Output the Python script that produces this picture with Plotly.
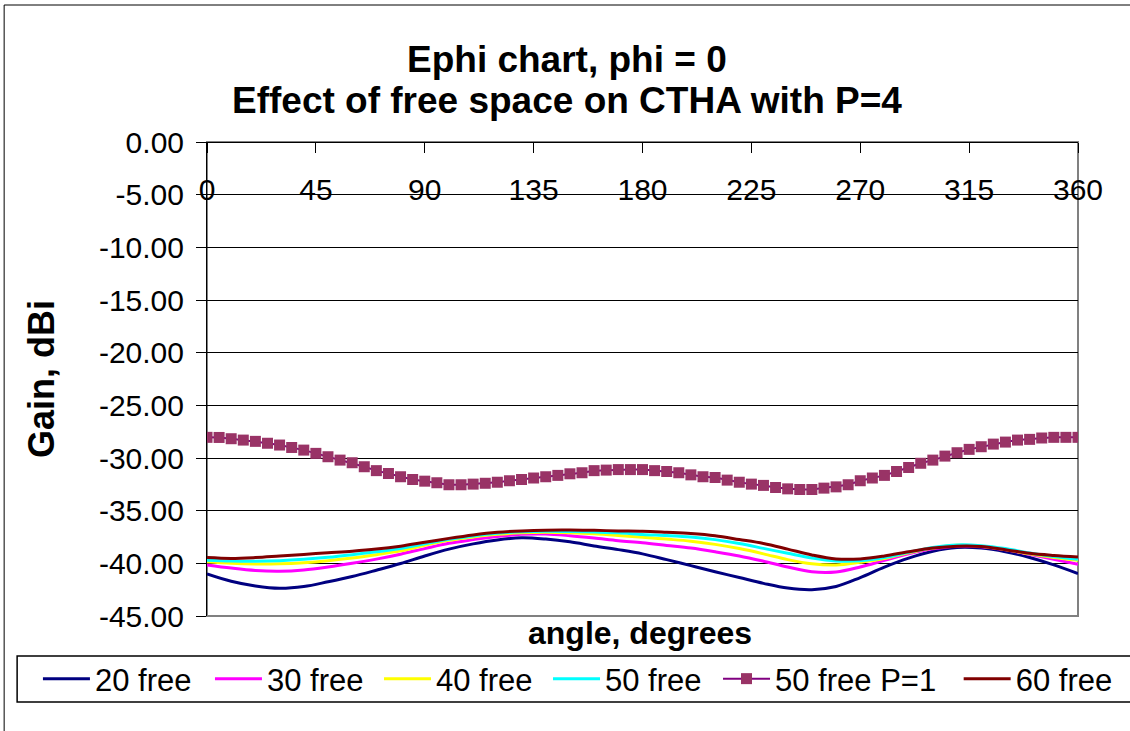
import plotly.graph_objects as go

# ---------------- data ----------------
angles_10 = list(range(0, 361, 10))
angles_5 = list(range(0, 361, 5))

free_20 = [-41.0, -41.7, -42.15, -42.37, -42.2, -41.75, -41.25, -40.65, -40.02, -39.3,
           -38.65, -38.15, -37.78, -37.58, -37.7, -37.96, -38.35, -38.7, -39.1, -39.65,
           -40.22, -40.8, -41.35, -41.9, -42.35, -42.5, -42.2, -41.35, -40.35, -39.5,
           -38.85, -38.5, -38.55, -38.9, -39.45, -40.15, -40.97]
free_30 = [-40.15, -40.45, -40.68, -40.75, -40.63, -40.35, -40.0, -39.6, -39.13, -38.6,
           -38.1, -37.75, -37.45, -37.25, -37.22, -37.38, -37.6, -37.85, -38.05, -38.3,
           -38.55, -38.9, -39.3, -39.8, -40.35, -40.8, -40.82, -40.35, -39.72, -39.1,
           -38.62, -38.37, -38.42, -38.72, -39.15, -39.62, -40.08]
free_40 = [-39.85, -40.0, -40.07, -40.05, -39.94, -39.75, -39.5, -39.18, -38.82, -38.28,
           -37.82, -37.5, -37.25, -37.1, -37.05, -37.1, -37.2, -37.35, -37.52, -37.7,
           -37.9, -38.2, -38.6, -39.1, -39.65, -40.05, -40.16, -39.9, -39.55, -39.0,
           -38.55, -38.28, -38.38, -38.7, -39.1, -39.45, -39.7]
free_50 = [-39.7, -39.78, -39.8, -39.75, -39.62, -39.43, -39.18, -38.9, -38.6, -38.15,
           -37.72, -37.4, -37.15, -37.0, -36.95, -36.98, -37.03, -37.1, -37.26, -37.36,
           -37.5, -37.75, -38.12, -38.58, -39.05, -39.5, -39.77, -39.75, -39.45, -38.95,
           -38.5, -38.25, -38.32, -38.6, -39.02, -39.35, -39.61]
free_60 = [-39.45, -39.53, -39.45, -39.3, -39.15, -39.0, -38.85, -38.65, -38.37, -38.0,
           -37.63, -37.3, -37.05, -36.92, -36.85, -36.84, -36.87, -36.92, -36.95, -37.05,
           -37.17, -37.38, -37.74, -38.12, -38.65, -39.2, -39.58, -39.58, -39.3, -38.9,
           -38.55, -38.37, -38.4, -38.7, -39.05, -39.25, -39.39]
free_50_p1 = [-28.04, -28.05, -28.17, -28.3, -28.42, -28.6, -28.77, -29.0, -29.25, -29.56,   # 0-45
              -29.88, -30.2, -30.45, -30.83, -31.2, -31.47, -31.78, -32.04, -32.2, -32.35,  # 50-95
              -32.54, -32.54, -32.48, -32.4, -32.3, -32.16, -32.04, -31.9, -31.78, -31.65,  # 100-145
              -31.5, -31.4, -31.2, -31.15, -31.1, -31.1, -31.1, -31.2, -31.28, -31.4,       # 150-195
              -31.6, -31.78, -31.85, -32.1, -32.3, -32.48, -32.6, -32.8, -32.93, -32.99,    # 200-245
              -32.99, -32.86, -32.74, -32.54, -32.16, -31.9, -31.65, -31.28, -30.9, -30.5,  # 250-295
              -30.2, -29.82, -29.5, -29.18, -28.93, -28.68, -28.49, -28.3, -28.23, -28.1,   # 300-345
              -28.04, -28.04, -28.04]                                                        # 350-360

x_ticks = [0, 45, 90, 135, 180, 225, 270, 315, 360]
y_ticks = [0, -5, -10, -15, -20, -25, -30, -35, -40, -45]
y_tick_text = ["%.2f" % v for v in y_ticks]

names = ["20 free", "30 free", "40 free", "50 free", "50 free P=1", "60 free"]
colors = ["#000080", "#FF00FF", "#FFFF00", "#00FFFF", "#800080", "#800000"]
marker_color = "#993366"

FONT = "Liberation Sans, Arial, sans-serif"

# legend entry positions (paper x), one small legend per series
legend_x = [-0.1941, 0.0034, 0.1975, 0.3915, 0.5867, 0.8630]
legend_ids = ["legend", "legend2", "legend3", "legend4", "legend5", "legend6"]

fig = go.Figure()
line_series = {0: free_20, 1: free_30, 2: free_40, 3: free_50, 5: free_60}
for i in range(6):
    if i == 4:
        fig.add_trace(go.Scatter(
            x=angles_5, y=free_50_p1, name=names[i], mode="lines+markers",
            legend=legend_ids[i],
            line=dict(color=colors[i], width=2),
            marker=dict(symbol="square", size=11, color=marker_color,
                        line=dict(width=0))))
    else:
        fig.add_trace(go.Scatter(
            x=angles_10, y=line_series[i], name=names[i], mode="lines",
            legend=legend_ids[i],
            line=dict(color=colors[i], width=3, shape="spline", smoothing=1.0)))

legend_common = dict(orientation="h", xanchor="left", y=-0.1329, yanchor="middle",
                     borderwidth=0, bgcolor="rgba(0,0,0,0)",
                     font=dict(family=FONT, size=31, color="black"),
                     itemwidth=47)
legends = {lid: dict(x=lx, **legend_common) for lid, lx in zip(legend_ids, legend_x)}

fig.update_layout(
    width=1130, height=731, autosize=False,
    margin=dict(l=207, r=47, t=142, b=115),
    paper_bgcolor="white", plot_bgcolor="white",
    font=dict(family=FONT, size=30, color="black"),
    xaxis=dict(range=[0, 360], tickvals=x_ticks, ticktext=[str(v) for v in x_ticks],
               anchor="free", position=1, side="bottom",
               showline=True, linecolor="black", linewidth=1,
               ticks="outside", ticklen=10, tickcolor="black",
               ticklabelstandoff=11,
               showgrid=False, zeroline=False,
               tickfont=dict(family=FONT, size=30, color="black")),
    yaxis=dict(range=[-45, 0], tickvals=y_ticks, ticktext=y_tick_text,
               showline=True, linecolor="black", linewidth=1,
               ticks="outside", ticklen=10, tickcolor="black",
               ticklabelstandoff=6,
               showgrid=True, gridcolor="black", gridwidth=1, zeroline=False,
               tickfont=dict(family=FONT, size=30, color="black"),
               title=dict(text="<b>Gain, dBi</b>", standoff=33,
                          font=dict(family=FONT, size=36, color="black"))),
    showlegend=True,
    **legends,
)

# chart title (two lines)
fig.add_annotation(text="<b>Ephi chart, phi = 0</b>", xref="paper", yref="paper",
                   x=0.4132, y=1.173, xanchor="center", yanchor="middle",
                   showarrow=False, font=dict(family=FONT, size=37, color="black"))
fig.add_annotation(text="<b>Effect of free space on CTHA with P=4</b>", xref="paper", yref="paper",
                   x=0.4132, y=1.0886, xanchor="center", yanchor="middle",
                   showarrow=False, font=dict(family=FONT, size=37, color="black"))

# x axis title (axis is drawn at top, title sits under the plot)
fig.add_annotation(text="<b>angle, degrees</b>", xref="paper", yref="paper",
                   x=0.4977, y=-0.0359, xanchor="center", yanchor="middle",
                   showarrow=False, font=dict(family=FONT, size=32, color="black"))

# plot area frame, legend box and outer chart border
fig.add_shape(type="rect", xref="paper", yref="paper", x0=0, y0=0, x1=1, y1=1,
              line=dict(color="#808080", width=2), layer="below")
fig.add_shape(type="rect", xref="paper", yref="paper", x0=-0.2180, y0=-0.1814, x1=1.07, y1=-0.0844,
              line=dict(color="black", width=1.5))
fig.add_shape(type="rect", xref="paper", yref="paper", x0=-0.2329, y0=-0.27, x1=1.07, y1=1.289,
              line=dict(color="black", width=1))

post = (
    "document.documentElement.style.overflow='hidden';"
    "document.body.style.margin='0';"
    "document.body.style.overflow='hidden';"
    "var gd=document.getElementById('{plot_id}');"
    "Plotly.relayout(gd,{width:1130,height:731});"
)
fig.write_html("out.html", post_script=post, config={"displayModeBar": False, "responsive": False})
